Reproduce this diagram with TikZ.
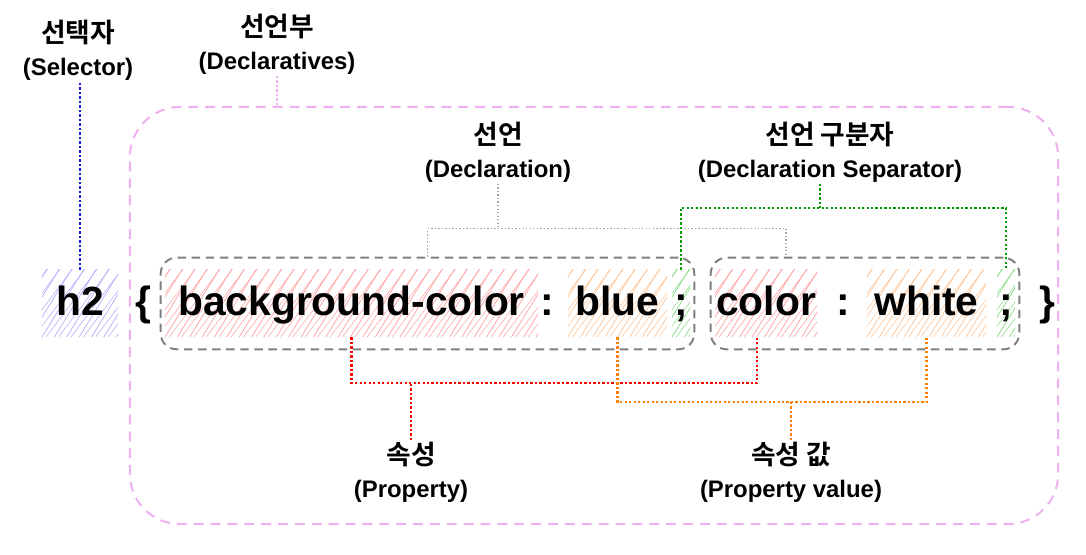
\documentclass[tikz,border=0pt]{standalone}
\usepackage{fontspec}
\setmainfont{Liberation Sans}
\newfontfamily\kr{Noto Sans CJK KR}[BoldFont={Noto Sans CJK KR Bold}, Scale=1.12]
\usepackage{tikz}
\usetikzlibrary{positioning, fit}
\definecolor{selcol}{RGB}{20,20,230}
\definecolor{selhatch}{RGB}{180,180,252}
\definecolor{propcol}{RGB}{250,0,0}
\definecolor{prophatch}{RGB}{255,165,165}
\definecolor{valcol}{RGB}{255,128,0}
\definecolor{valhatch}{RGB}{255,200,155}
\definecolor{sepcol}{RGB}{0,155,0}
\definecolor{sephatch}{RGB}{140,222,140}
\definecolor{declcol}{RGB}{128,128,128}
\definecolor{declline}{RGB}{165,165,165}
\definecolor{declscol}{RGB}{240,175,240}

\begin{document}
\begin{tikzpicture}[x=0.025cm, y=-0.025cm,
		tok/.style={font=\fontsize{29}{34}\selectfont\bfseries, inner sep=0pt, text height=1.125cm, text depth=0.55cm, anchor=base},
		lbl/.style={font=\fontsize{17}{23.5}\selectfont\bfseries, align=center, inner sep=1pt},
		hatch/.style={path picture={
				\foreach \k in {-8,...,34}{
					\draw[#1, line width=0.55pt] ([xshift=\k*8.8pt]path picture bounding box.south west) -- ++(52,-84);
					\draw[#1, line width=0.4pt] ([xshift=\k*8.8pt+3pt]path picture bounding box.south west) -- ++(60,-80);
				}}},
		dotline/.style={line width=1.6pt, dash pattern=on 1.6pt off 1.6pt},
		declbox/.style={draw=declcol, line width=1.4pt, dash pattern=on 6pt off 4pt, rounded corners=0.4cm, inner xsep=0.1cm, inner ysep=0.3cm},
		declsbox/.style={draw=declscol, line width=1.4pt, dash pattern=on 7pt off 5pt, rounded corners=1.25cm}]
	\useasboundingbox (0,0) rectangle (1086,554);
	
	% 선언부 상자
	\node[declsbox, minimum width=23.2cm, minimum height=10.425cm] (decls) at (594,315.5) {};
	
	% 코드 한 줄
	\node[tok, hatch=selhatch, minimum width=1.9cm] (sel) at (80,315) {h2};
	\node[tok] (lbr) at (143,315) {\{};
	\node[tok, hatch=prophatch, minimum width=9.325cm] (prop1) at (351.5,315) {background-color};
	\node[tok] (col1) at (547,315) {:};
	\node[tok, hatch=valhatch, minimum width=2.475cm] (val1) at (617.5,315) {blue};
	\node[tok, hatch=sephatch, minimum width=0.45cm] (semi1) at (681,315) {;};
	\node[tok, hatch=prophatch, minimum width=2.55cm] (prop2) at (766,315) {color};
	\node[tok] (col2) at (843,315) {:};
	\node[tok, hatch=valhatch, minimum width=2.975cm] (val2) at (926.5,315) {white};
	\node[tok, hatch=sephatch, minimum width=0.45cm] (semi2) at (1006,315) {;};
	\node[tok] (rbr) at (1047,315) {\}};
	
	% 선언 상자
	\node[declbox, fit=(prop1)(semi1)] (decl1) {};
	\node[declbox, fit=(prop2)(semi2)] (decl2) {};
	
	% 이름표
	\node[lbl] (selL) at (78,50) {{\kr 선택자}\\(Selector)};
	\node[lbl] (declsL) at (277,44) {{\kr 선언부}\\(Declaratives)};
	\node[lbl] (declL) at (498,152) {{\kr 선언}\\(Declaration)};
	\node[lbl] (sepL) at (830,152) {{\kr 선언 구분자}\\(Declaration Separator)};
	\node[lbl] (propL) at (411,472) {{\kr 속성}\\(Property)};
	\node[lbl] (valL) at (791,472) {{\kr 속성 값}\\(Property value)};
	
	% 이음선
	\draw[dotline, selcol] (sel.north) -- (sel.north |- selL.south);
	\draw[dotline, declscol] (declsL.south) -- (declsL.south |- decls.north);
	\draw[declline, line width=1pt, dash pattern=on 1pt off 1.5pt] (decl1.north) -- ++(0,-28) coordinate (dj) -| ([xshift=-1.975cm]decl2.north);
	\draw[declline, line width=1pt, dash pattern=on 1pt off 1.5pt] (declL.south) -- (declL.south |- dj);
	\draw[dotline, sepcol] (semi1.north) -- ++(0,-62) coordinate (sj) -| (semi2.north);
	\draw[dotline, sepcol] ([xshift=-0.25cm]sepL.south) -- ([xshift=-0.25cm]sepL.south |- sj);
	\draw[dotline, propcol] (prop1.south) -- ++(0,46) coordinate (pj) -| ([xshift=-0.225cm]prop2.south);
	\draw[dotline, propcol] (propL.north) -- (propL.north |- pj);
	\draw[dotline, valcol] (val1.south) -- ++(0,65) coordinate (vj) -| (val2.south);
	\draw[dotline, valcol] (valL.north) -- (valL.north |- vj);
\end{tikzpicture}
\end{document}
